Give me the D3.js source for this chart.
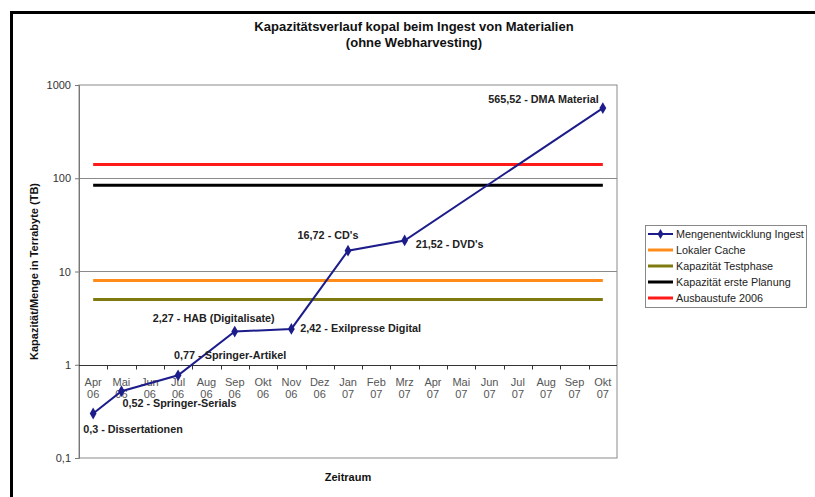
<!DOCTYPE html>
<html lang="de">
<head>
  <meta charset="UTF-8">
  <title>Kapazitätsverlauf kopal</title>
  <script src="https://d3js.org/d3.v7.min.js"></script>
  <style>
    body { margin: 0; background: #fff; }
    text { font-family: "Liberation Sans", Arial, sans-serif; }
    .title { font-size: 13px; font-weight: bold; fill: #111; }
    .axis-title { font-size: 11px; font-weight: bold; fill: #111; }
    .y-axis text { font-size: 11px; fill: #333; }
    .x-label { font-size: 11px; fill: #555; }
    .point-label { font-size: 10.8px; font-weight: bold; fill: #222; }
    .legend text { font-size: 10.8px; fill: #222; }
  </style>
</head>
<body>
  <div id="chart"></div>
  <script>
    // data
    const months = ["Apr", "Mai", "Jun", "Jul", "Aug", "Sep", "Okt", "Nov", "Dez",
                    "Jan", "Feb", "Mrz", "Apr", "Mai", "Jun", "Jul", "Aug", "Sep", "Okt"];
    const years = ["06", "06", "06", "06", "06", "06", "06", "06", "06",
                   "07", "07", "07", "07", "07", "07", "07", "07", "07", "07"];
    const ingest = [0.3, 0.52, null, 0.77, null, 2.27, null, 2.42, null,
                    16.72, null, 21.52, null, null, null, null, null, null, 565.52];
    const ingestLabels = ["Dissertationen", "Springer-Serials", null, "Springer-Artikel", null,
                          "HAB (Digitalisate)", null, "Exilpresse Digital", null, "CD's", null,
                          "DVD's", null, null, null, null, null, null, "DMA Material"];
    const seriesNames = ["Mengenentwicklung Ingest", "Lokaler Cache", "Kapazität Testphase",
                         "Kapazität erste Planung", "Ausbaustufe 2006"];
    const capacity = [8, 5, 84, 140]; // Lokaler Cache, Testphase, erste Planung, Ausbaustufe 2006
    const yTicks = [0.1, 1, 10, 100, 1000];

    // label placement (dx, dy, anchor) for the annotated points, in order
    const labelPos = [[-10, 19, "start"], [1, 16, "start"], [-4, -16, "start"],
                      [-21, -10, "middle"], [9, 3, "start"], [-20, -12, "middle"],
                      [11, 8, "start"], [-4, -5, "end"]];
    const colors = ["#1c1c8a", "#ff8c1a", "#7f7a10", "#000000", "#ff1a1a"];

    const width = 815, height = 497;
    const plot = { left: 79, right: 617, top: 85, bottom: 458 };

    const svg = d3.select("#chart").append("svg")
      .attr("width", width)
      .attr("height", height);

    // outer frame
    svg.append("path")
      .attr("d", `M11.5,${height} V12.5 H${width}`)
      .attr("fill", "none")
      .attr("stroke", "#000")
      .attr("stroke-width", 3);

    const cats = months.map((m, i) => m + " " + years[i]);

    const x = d3.scaleBand()
      .domain(cats)
      .range([plot.left, plot.right]);

    const y = d3.scaleLog()
      .domain([0.1, 1000])
      .range([plot.bottom, plot.top]);

    const cx = c => x(c) + x.bandwidth() / 2;

    // plot border and gridlines
    svg.append("rect")
      .attr("x", plot.left).attr("y", plot.top)
      .attr("width", plot.right - plot.left).attr("height", plot.bottom - plot.top)
      .attr("fill", "none").attr("stroke", "#8a8a8a");

    svg.append("g")
      .selectAll("line")
      .data(yTicks.filter(d => d > 1 && d < 1000))
      .join("line")
      .attr("x1", plot.left).attr("x2", plot.right)
      .attr("y1", d => Math.round(y(d)) + 0.5).attr("y2", d => Math.round(y(d)) + 0.5)
      .attr("stroke", "#8a8a8a");

    // y axis
    svg.append("g")
      .attr("class", "y-axis")
      .attr("transform", `translate(${plot.left},0)`)
      .call(d3.axisLeft(y).tickValues(yTicks).tickSize(4).tickPadding(4)
        .tickFormat(d => String(d).replace(".", ",")))
      .call(g => g.select(".domain").attr("stroke", "#777"))
      .call(g => g.selectAll(".tick line").attr("stroke", "#777"));

    // x axis crossing at 1
    const y1 = Math.round(y(1)) + 0.5;
    svg.append("line")
      .attr("x1", plot.left).attr("x2", plot.right)
      .attr("y1", y1).attr("y2", y1)
      .attr("stroke", "#333");

    svg.append("g")
      .selectAll("line")
      .data(cats.slice(1))
      .join("line")
      .attr("x1", d => Math.round(x(d)) + 0.5).attr("x2", d => Math.round(x(d)) + 0.5)
      .attr("y1", y1).attr("y2", y1 + 4)
      .attr("stroke", "#333");

    const xl = svg.append("g")
      .selectAll("text")
      .data(cats)
      .join("text")
      .attr("class", "x-label")
      .attr("text-anchor", "middle");
    xl.append("tspan").attr("x", cx).attr("y", y1 + 20).text((d, i) => months[i]);
    xl.append("tspan").attr("x", cx).attr("y", y1 + 32).text((d, i) => years[i]);

    // capacity lines
    capacity.forEach((v, i) => {
      svg.append("line")
        .attr("x1", cx(cats[0])).attr("x2", cx(cats[cats.length - 1]))
        .attr("y1", y(v)).attr("y2", y(v))
        .attr("stroke", colors[i + 1])
        .attr("stroke-width", 3);
    });

    // ingest series
    const pts = cats.map((c, i) => ({ c, v: ingest[i], label: ingestLabels[i] }))
      .filter(d => d.v != null);

    svg.append("path")
      .datum(pts)
      .attr("fill", "none")
      .attr("stroke", colors[0])
      .attr("stroke-width", 2)
      .attr("d", d3.line().x(d => cx(d.c)).y(d => y(d.v)));

    svg.append("g")
      .selectAll("path")
      .data(pts)
      .join("path")
      .attr("transform", d => `translate(${cx(d.c)},${y(d.v)})`)
      .attr("d", d3.symbol(d3.symbolDiamond, 40))
      .attr("fill", colors[0]);

    svg.append("g")
      .selectAll("text")
      .data(pts)
      .join("text")
      .attr("class", "point-label")
      .attr("x", (d, i) => cx(d.c) + labelPos[i][0])
      .attr("y", (d, i) => y(d.v) + labelPos[i][1])
      .attr("text-anchor", (d, i) => labelPos[i][2])
      .text(d => String(d.v).replace(".", ",") + " - " + d.label);

    // titles
    svg.append("text").attr("class", "title")
      .attr("x", 414).attr("y", 31).attr("text-anchor", "middle")
      .text("Kapazitätsverlauf kopal beim Ingest von Materialien");
    svg.append("text").attr("class", "title")
      .attr("x", 414).attr("y", 47).attr("text-anchor", "middle")
      .text("(ohne Webharvesting)");

    svg.append("text").attr("class", "axis-title")
      .attr("x", 348).attr("y", 481).attr("text-anchor", "middle")
      .text("Zeitraum");

    svg.append("text").attr("class", "axis-title")
      .attr("transform", `translate(38,${(plot.top + plot.bottom) / 2}) rotate(-90)`)
      .attr("text-anchor", "middle")
      .text("Kapazität/Menge in Terrabyte (TB)");

    // legend
    const lg = svg.append("g").attr("class", "legend");
    lg.append("rect")
      .attr("x", 645.5).attr("y", 225.5).attr("width", 161).attr("height", 82)
      .attr("fill", "#fff").attr("stroke", "#888");
    seriesNames.forEach((name, i) => {
      const ly = 234 + i * 16;
      lg.append("line")
        .attr("x1", 648).attr("x2", 673).attr("y1", ly).attr("y2", ly)
        .attr("stroke", colors[i]).attr("stroke-width", i === 0 ? 2 : 3);
      if (i === 0) {
        lg.append("path")
          .attr("transform", `translate(660.5,${ly})`)
          .attr("d", d3.symbol(d3.symbolDiamond, 30))
          .attr("fill", colors[0]);
      }
      lg.append("text")
        .attr("x", 676).attr("y", ly + 4)
        .text(name);
    });
  </script>
</body>
</html>
